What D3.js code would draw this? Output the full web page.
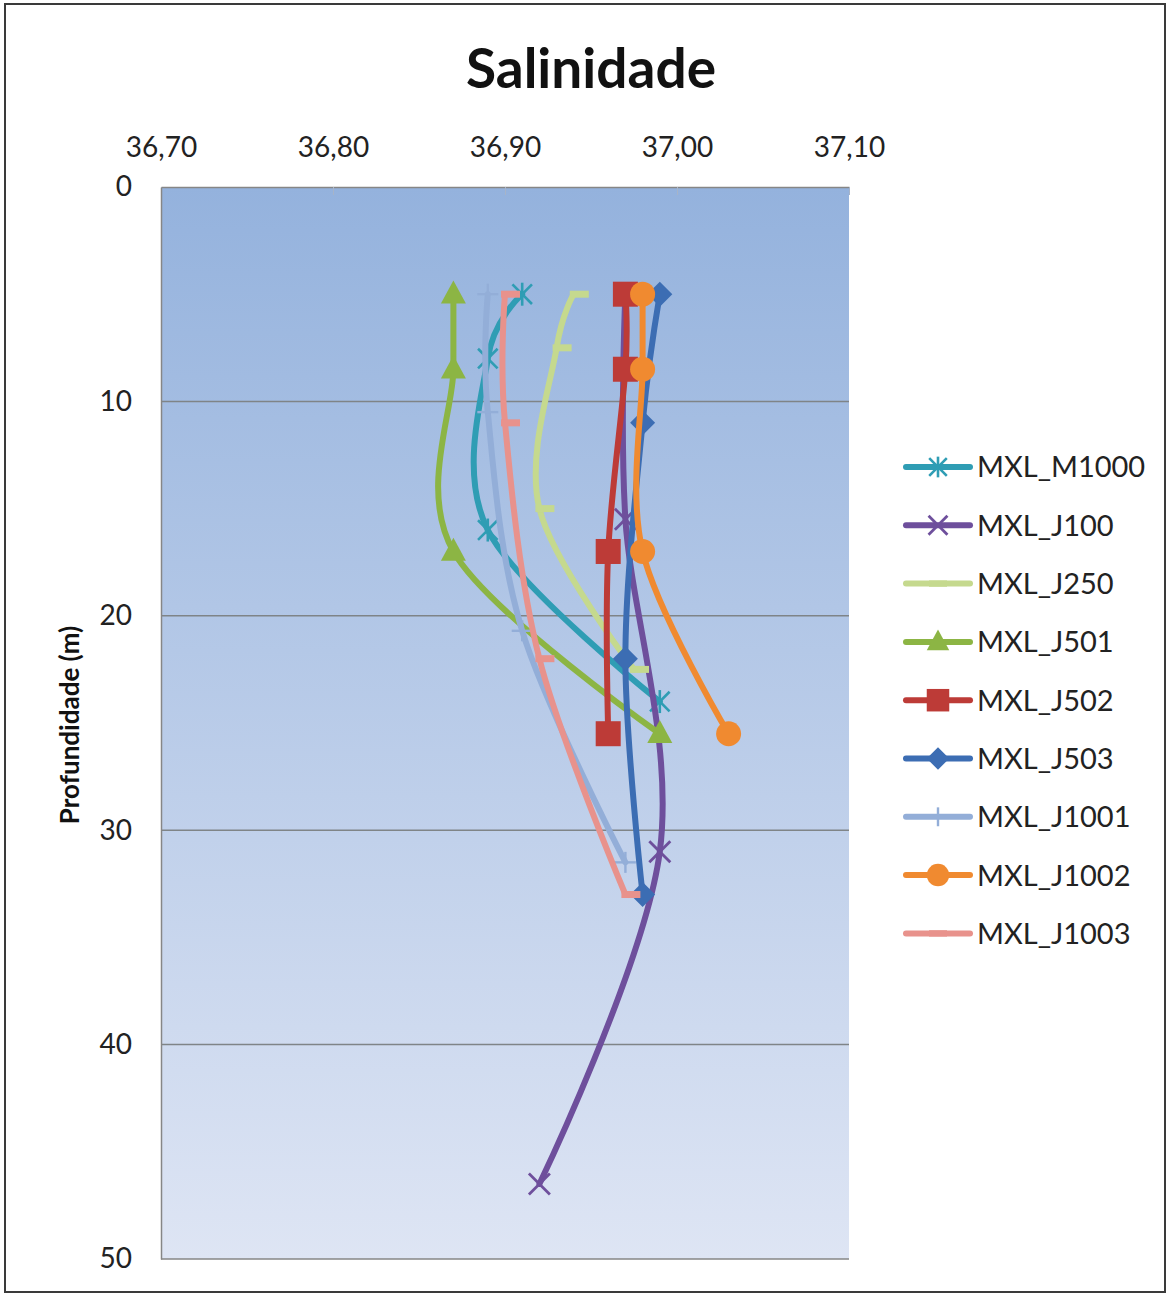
<!DOCTYPE html>
<html>
<head>
<meta charset="utf-8">
<script src="https://cdn.jsdelivr.net/npm/d3@7"></script>
<style>
  html, body { margin: 0; padding: 0; background: #ffffff; }
  svg { display: block; }
</style>
</head>
<body>
<svg id="chart" width="1169" height="1295"></svg>
<script>
// Axis ticks
const salinityTicks = [36.70, 36.80, 36.90, 37.00, 37.10];
const depthTicks = [0, 10, 20, 30, 40, 50];

// Profile names, in legend order
const seriesNames = ["MXL_M1000", "MXL_J100", "MXL_J250", "MXL_J501", "MXL_J502",
                     "MXL_J503", "MXL_J1001", "MXL_J1002", "MXL_J1003"];

// Salinity (x) and depth in metres (y) for each profile
const m1000Sal   = [36.91, 36.89, 36.89, 36.99];
const m1000Depth = [5, 8, 16, 24];
const j100Sal    = [36.97, 36.97, 36.99, 36.92];
const j100Depth  = [5, 15.5, 31, 46.5];
const j250Sal    = [36.94, 36.93, 36.92, 36.975];
const j250Depth  = [5, 7.5, 15, 22.5];
const j501Sal    = [36.87, 36.87, 36.87, 36.99];
const j501Depth  = [5, 8.5, 17, 25.5];
const j502Sal    = [36.97, 36.97, 36.96, 36.96];
const j502Depth  = [5, 8.5, 17, 25.5];
const j503Sal    = [36.99, 36.98, 36.97, 36.98];
const j503Depth  = [5, 11, 22, 33];
const j1001Sal   = [36.89, 36.89, 36.91, 36.97];
const j1001Depth = [5, 10.5, 20.7, 31.5];
const j1002Sal   = [36.98, 36.98, 36.98, 37.03];
const j1002Depth = [5, 8.5, 17, 25.5];
const j1003Sal   = [36.90, 36.90, 36.92, 36.97];
const j1003Depth = [5, 11, 22, 33];

const salValues = [m1000Sal, j100Sal, j250Sal, j501Sal, j502Sal, j503Sal, j1001Sal, j1002Sal, j1003Sal];
const depthValues = [m1000Depth, j100Depth, j250Depth, j501Depth, j502Depth, j503Depth, j1001Depth, j1002Depth, j1003Depth];

const colors = ["#2f9db4", "#6e4f9c", "#c5d98e", "#8cb544", "#bd3b37",
                "#3c6db3", "#93aed8", "#f08a30", "#e8928c"];
const markers = ["asterisk", "x", "dash", "triangle", "square", "diamond", "plus", "circle", "dash"];

const series = seriesNames.map((name, i) => ({
  name, color: colors[i], marker: markers[i],
  points: salValues[i].map((s, k) => ({ sal: s, depth: depthValues[i][k] }))
}));

const svg = d3.select("#chart");
const FONT = "Lato, 'Open Sans', sans-serif";

// Chart frame
svg.append("rect")
  .attr("x", 5).attr("y", 4).attr("width", 1160).attr("height", 1288)
  .attr("fill", "#ffffff").attr("stroke", "#3a3a3a").attr("stroke-width", 2);

const plot = { left: 161, top: 187, right: 849, bottom: 1259 };

const x = d3.scaleLinear().domain([36.70, 37.10]).range([plot.left, plot.right]);
const y = d3.scaleLinear().domain([0, 50]).range([plot.top, plot.bottom]);

// Plot area gradient background
const defs = svg.append("defs");
const grad = defs.append("linearGradient").attr("id", "plotFill")
  .attr("x1", 0).attr("y1", 0).attr("x2", 0).attr("y2", 1);
grad.append("stop").attr("offset", "0%").attr("stop-color", "#94b2dd");
grad.append("stop").attr("offset", "100%").attr("stop-color", "#dee5f4");

svg.append("rect")
  .attr("x", plot.left).attr("y", plot.top)
  .attr("width", plot.right - plot.left).attr("height", plot.bottom - plot.top)
  .attr("fill", "url(#plotFill)");

// Horizontal gridlines
svg.append("g").selectAll("line")
  .data(depthTicks.filter(d => d > 0 && d < 50))
  .join("line")
  .attr("x1", plot.left).attr("x2", plot.right)
  .attr("y1", d => y(d)).attr("y2", d => y(d))
  .attr("stroke", "#7f8487").attr("stroke-width", 1.5);

// Top salinity axis
const fmt = d => d3.format(".2f")(d).replace(".", ",");
const xAxis = svg.append("g")
  .attr("transform", `translate(0,${plot.top})`)
  .call(d3.axisTop(x).tickValues(salinityTicks).tickFormat(fmt).tickSizeInner(-8).tickSizeOuter(0).tickPadding(30));
xAxis.select(".domain").attr("stroke", "#868686").attr("stroke-width", 1.5);
xAxis.selectAll(".tick line").attr("stroke", "#a7b4c8").attr("stroke-width", 1);
xAxis.selectAll(".tick text")
  .attr("font-family", FONT).attr("font-size", 28).attr("fill", "#222");

// Left depth axis
const yAxis = svg.append("g")
  .attr("transform", `translate(${plot.left},0)`)
  .call(d3.axisLeft(y).tickValues(depthTicks).tickFormat(d3.format("d")).tickSize(0).tickPadding(29));
yAxis.select(".domain").attr("stroke", "#868686").attr("stroke-width", 1.5);
yAxis.selectAll(".tick text")
  .attr("font-family", FONT).attr("font-size", 28).attr("fill", "#222");

// Bottom edge of plot area
svg.append("line")
  .attr("x1", plot.left).attr("x2", plot.right)
  .attr("y1", plot.bottom).attr("y2", plot.bottom)
  .attr("stroke", "#868686").attr("stroke-width", 1.5);

// Title
svg.append("text")
  .attr("x", 591).attr("y", 88)
  .attr("text-anchor", "middle")
  .attr("font-family", FONT).attr("font-weight", "bold").attr("font-size", 55)
  .attr("fill", "#111")
  .text("Salinidade");

// Y axis title
svg.append("text")
  .attr("transform", "translate(79,725) rotate(-90)")
  .attr("text-anchor", "middle")
  .attr("font-family", FONT).attr("font-weight", "bold").attr("font-size", 26)
  .attr("fill", "#111")
  .text("Profundidade (m)");

// Marker drawing
function drawMarker(g, type, color, cx, cy, scale = 1) {
  const s = scale;
  switch (type) {
    case "asterisk": {
      const r = 11.5 * s;
      [[0, -r, 0, r], [-r * 0.85, -r * 0.85, r * 0.85, r * 0.85], [-r * 0.85, r * 0.85, r * 0.85, -r * 0.85]]
        .forEach(([a, b, c, d]) => g.append("line")
          .attr("x1", cx + a).attr("y1", cy + b).attr("x2", cx + c).attr("y2", cy + d)
          .attr("stroke", color).attr("stroke-width", 2.6));
      break;
    }
    case "x": {
      const r = 10.5 * s;
      [[-r, -r, r, r], [-r, r, r, -r]].forEach(([a, b, c, d]) => g.append("line")
        .attr("x1", cx + a).attr("y1", cy + b).attr("x2", cx + c).attr("y2", cy + d)
        .attr("stroke", color).attr("stroke-width", 2.8));
      break;
    }
    case "plus": {
      const r = 10.5 * s;
      [[0, -r, 0, r], [-r, 0, r, 0]].forEach(([a, b, c, d]) => g.append("line")
        .attr("x1", cx + a).attr("y1", cy + b).attr("x2", cx + c).attr("y2", cy + d)
        .attr("stroke", color).attr("stroke-width", 2.4));
      break;
    }
    case "dash":
      g.append("rect").attr("x", cx - 4 * s).attr("y", cy - 3.5 * s)
        .attr("width", 19 * s).attr("height", 7 * s).attr("fill", color);
      break;
    case "legendDash":
      g.append("rect").attr("x", cx - 10 * s).attr("y", cy - 3.5 * s)
        .attr("width", 20 * s).attr("height", 7 * s).attr("fill", color);
      break;
    case "triangle": {
      const h = 23 * s, w = 25 * s;
      g.append("path")
        .attr("d", `M${cx},${cy - h * 0.6}L${cx + w / 2},${cy + h * 0.4}L${cx - w / 2},${cy + h * 0.4}Z`)
        .attr("fill", color);
      break;
    }
    case "square": {
      const a = 25 * s;
      g.append("rect").attr("x", cx - a / 2).attr("y", cy - a / 2)
        .attr("width", a).attr("height", a).attr("fill", color);
      break;
    }
    case "diamond": {
      const r = 12.5 * s;
      g.append("path")
        .attr("d", `M${cx},${cy - r}L${cx + r},${cy}L${cx},${cy + r}L${cx - r},${cy}Z`)
        .attr("fill", color);
      break;
    }
    case "circle":
      g.append("circle").attr("cx", cx).attr("cy", cy).attr("r", 12.5 * s).attr("fill", color);
      break;
  }
}

// Smoothed profile lines with markers, in series order
const line = d3.line()
  .x(d => x(d.sal))
  .y(d => y(d.depth))
  .curve(d3.curveCatmullRom.alpha(0));

const linesG = svg.append("g");
series.forEach(s => {
  const g = linesG.append("g");
  g.append("path")
    .attr("d", line(s.points))
    .attr("fill", "none")
    .attr("stroke", s.color)
    .attr("stroke-width", 6)
    .attr("stroke-linecap", "round")
    .attr("stroke-linejoin", "round");
  s.points.forEach(p => drawMarker(g, s.marker, s.color, x(p.sal), y(p.depth)));
});

// Legend
const legend = svg.append("g");
series.forEach((s, i) => {
  const cy = 467 + i * 58.3;
  const g = legend.append("g");
  g.append("line")
    .attr("x1", 906).attr("x2", 970).attr("y1", cy).attr("y2", cy)
    .attr("stroke", s.color).attr("stroke-width", 6).attr("stroke-linecap", "round");
  drawMarker(g, s.marker === "dash" ? "legendDash" : s.marker, s.color, 938, cy, 0.9);
  g.append("text")
    .attr("x", 977).attr("y", cy)
    .attr("dy", "0.36em")
    .attr("font-family", FONT).attr("font-size", 29).attr("fill", "#222")
    .text(s.name);
});
</script>
</body>
</html>
